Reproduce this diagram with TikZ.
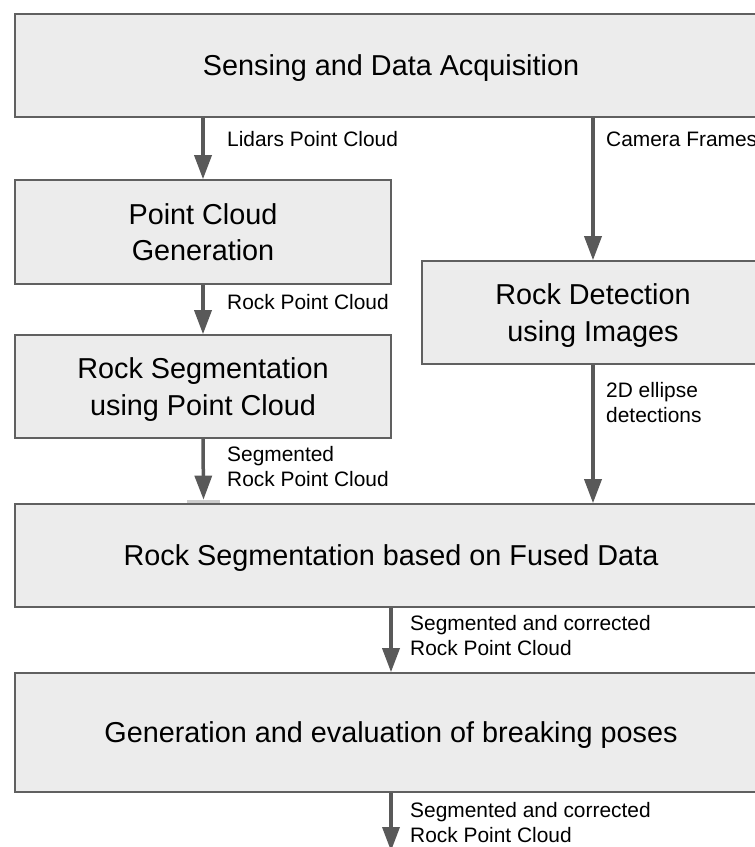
\documentclass[tikz,border=0pt]{standalone}
\usepackage{fontspec}
\setmainfont{Liberation Sans}
\usetikzlibrary{arrows.meta}
\definecolor{boxfill}{HTML}{ECECEC}
\definecolor{boxline}{HTML}{606060}
\definecolor{arrowc}{HTML}{595959}
\definecolor{barc}{HTML}{CCCCCC}
\begin{document}
\begin{tikzpicture}[x=1pt,y=-1pt,
  procbox/.style={draw=boxline, fill=boxfill, line width=1.6pt, inner sep=0pt,
    align=center, font=\fontsize{28.8}{36.6}\selectfont, text depth=0pt},
  flow/.style={draw=arrowc, line width=3.5pt, -{Triangle[length=24pt,width=17pt]}},
  lbl/.style={anchor=base west, align=left, inner sep=0pt,
    font=\fontsize{20.9}{24.5}\selectfont}]
\useasboundingbox (0,0) rectangle (755,847);
\clip (0,0) rectangle (755,847);
% boxes
\node[procbox, minimum width=752pt, minimum height=103pt] (top) at (391,65.5)
  {Sensing and Data Acquisition};
\node[procbox, minimum width=376pt, minimum height=104pt] (pcg) at (203,232)
  {Point Cloud\\Generation};
\node[procbox, minimum width=376pt, minimum height=103pt] (rseg) at (203,386.5)
  {Rock Segmentation\\using Point Cloud};
\node[procbox, minimum width=342pt, minimum height=103pt] (rdet) at (593,312.5)
  {Rock Detection\\using Images};
\node[procbox, minimum width=752pt, minimum height=103pt] (fused) at (391,555.5)
  {Rock Segmentation based on Fused Data};
\node[procbox, minimum width=752pt, minimum height=119pt] (gen) at (391,732.5)
  {Generation and evaluation of breaking poses};
\node[fill=barc, inner sep=0pt, minimum width=33pt, minimum height=3pt] (bar) at (203.5,501.3) {};
\coordinate (out) at (391,851);
% connectors
\draw[flow] (top.south -| pcg.north) -- (pcg.north);
\draw[flow] (top.south -| rdet.north) -- (rdet.north);
\draw[flow] (pcg.south) -- (rseg.north);
\draw[flow] (rseg.south) -- (bar.north);
\draw[flow] (rdet.south) -- (rdet.south |- fused.north);
\draw[flow] (fused.south) -- (gen.north);
\draw[flow] (gen.south) -- (out);
% labels (base anchor = baseline of the last line)
\node[lbl] (l1) at (227,146) {Lidars Point Cloud};
\node[lbl] (l2) at (606,146) {Camera Frames};
\node[lbl] (l3) at (227,309) {Rock Point Cloud};
\node[lbl] (l4) at (227,486) {Segmented\\Rock Point Cloud};
\node[lbl] (l5) at (606,422) {2D ellipse\\detections};
\node[lbl] (l6) at (410,655) {Segmented and corrected\\Rock Point Cloud};
\node[lbl] (l7) at (410,842) {Segmented and corrected\\Rock Point Cloud};
\end{tikzpicture}
\end{document}
